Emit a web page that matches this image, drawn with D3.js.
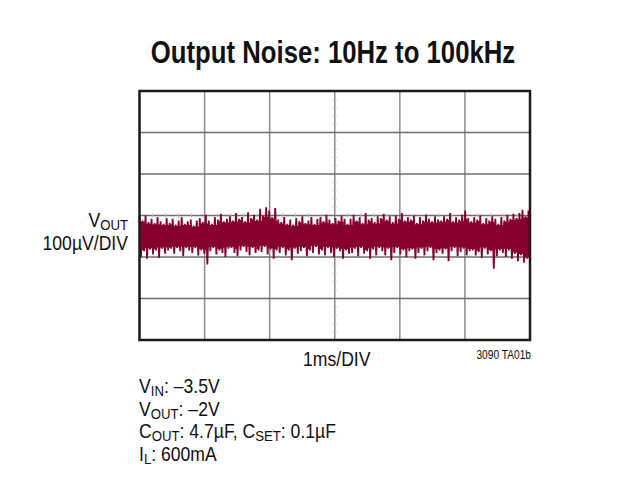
<!DOCTYPE html>
<html>
<head>
<meta charset="utf-8">
<title>Output Noise</title>
<script src="https://cdn.jsdelivr.net/npm/d3@7"></script>
<style>
  body{margin:0;background:#fff;}
  text{font-family:"Liberation Sans",Arial,sans-serif;fill:#111;}
</style>
</head>
<body>
<div id="container"></div>
<script>
// scope settings: 6 x 6 divisions, 1ms/DIV, 100uV/DIV
var xDivs = [0,1,2,3,4,5,6];          // ms
var yDivs = [-300,-200,-100,0,100,200,300]; // uV

var noiseHi = [
  -2,-12,0,-16,-8,-18,-4,-14,-20,-6,
  -18,-8,-22,-12,-4,-20,-14,-10,-24,-12,
  -6,-16,2,-12,-20,-4,-10,4,-14,-8,
  -2,-12,6,-8,-4,-14,8,-6,2,-10,
  16,0,20,12,-4,18,-10,-16,-4,-20,
  -10,-22,-6,-14,-2,-18,-12,-4,-20,-8,
  -4,-14,2,-10,-18,-6,-12,0,-8,-20,
  -8,2,-12,-4,-18,6,-10,-6,-16,-2,
  -6,4,-10,-2,-16,0,-8,6,-12,-4,
  -10,0,-18,-4,-12,2,-8,-14,-2,-10,
  -12,-2,-8,6,-14,-4,-10,2,12,-6,
  -14,-4,-10,0,-18,-6,-12,-2,-8,-20,
  -4,-12,2,-8,4,-6,6,14,-2,12
];
var noiseLo = [
  -100,-86,-104,-82,-94,-84,-102,-80,-92,-84,
  -80,-92,-78,-86,-98,-78,-84,-90,-78,-96,
  -84,-92,-118,-86,-78,-94,-84,-90,-100,-80,
  -78,-90,-98,-84,-76,-88,-96,-78,-90,-84,
  -88,-76,-94,-82,-104,-84,-90,-78,-96,-84,
  -108,-80,-92,-86,-78,-98,-84,-90,-76,-94,
  -84,-96,-78,-90,-100,-80,-86,-104,-84,-92,
  -90,-80,-98,-78,-92,-86,-104,-82,-96,-78,
  -86,-96,-80,-108,-90,-78,-94,-84,-100,-86,
  -82,-104,-90,-80,-96,-86,-78,-108,-90,-84,
  -92,-82,-110,-86,-78,-98,-88,-80,-96,-86,
  -84,-96,-88,-102,-80,-94,-86,-128,-98,-84,
  -90,-100,-84,-104,-92,-110,-96,-114,-104,-118
];

var W = 624, H = 500;
var plot = {left:139.5, top:91, width:390.5, height:249};
var narrow = 0.88; // condensed look for the body text

var svg = d3.select("#container").append("svg")
    .attr("width", W).attr("height", H);

var xScale = d3.scaleLinear().domain([0,6]).range([plot.left, plot.left+plot.width]);
var yScale = d3.scaleLinear().domain([-300,300]).range([plot.top+plot.height, plot.top]);

function label(x, y, size, anchor, sx){
  return svg.append("text")
    .attr("transform","translate("+x+","+y+") scale("+sx+",1)")
    .attr("text-anchor", anchor)
    .style("font-size", size+"px");
}

// title
label(333, 63, 31, "middle", 0.83)
  .style("font-weight","700")
  .text("Output Noise: 10Hz to 100kHz");

// grid
var grid = svg.append("g");
grid.selectAll(".vl").data(xDivs.slice(1,-1)).enter().append("line")
  .attr("x1", d=>xScale(d)).attr("x2", d=>xScale(d))
  .attr("y1", yScale(300)).attr("y2", yScale(-300))
  .attr("stroke","#8c8c8c").attr("stroke-width",1.5);
grid.selectAll(".hl").data(yDivs.slice(1,-1)).enter().append("line")
  .attr("x1", xScale(0)).attr("x2", xScale(6))
  .attr("y1", d=>yScale(d)).attr("y2", d=>yScale(d))
  .attr("stroke","#6e6e6e").attr("stroke-width",1.5);

// minor ticks on center axes
var minorY = d3.range(-300, 301, 20).filter(d => d % 100 != 0);
grid.selectAll(".my").data(minorY).enter().append("line")
  .attr("x1", xScale(3)-2).attr("x2", xScale(3)+2)
  .attr("y1", d=>yScale(d)).attr("y2", d=>yScale(d))
  .attr("stroke","#bbb").attr("stroke-width",1);
var minorX = d3.range(0, 6.01, 0.2).filter(d => Math.abs(d-Math.round(d))>0.01);
grid.selectAll(".mx").data(minorX).enter().append("line")
  .attr("x1", d=>xScale(d)).attr("x2", d=>xScale(d))
  .attr("y1", yScale(0)-2).attr("y2", yScale(0)+2)
  .attr("stroke","#bbb").attr("stroke-width",1);

// trace
var n = noiseHi.length;
var tScale = d3.scaleLinear().domain([0, n-0.5]).range([0,6]);
var traceColor = "#87002e";

// dense core where neighbouring sweeps overlap
var core = d3.range(n).map(function(i){
  var a = Math.max(0,i-1), b = Math.min(n-1,i+1);
  return {t: tScale(i+0.25),
          top: d3.min(noiseHi.slice(a,b+1)) - 3,
          bot: d3.max(noiseLo.slice(a,b+1)) + 3};
});
svg.append("path")
  .datum(core)
  .attr("d", d3.area().x(d=>xScale(d.t)).y0(d=>yScale(d.bot)).y1(d=>yScale(d.top)).curve(d3.curveStep))
  .attr("fill", traceColor);

// zigzag between the peaks of each sample
var pts = [];
for(var i=0;i<n;i++){
  pts.push([tScale(i), noiseHi[i]]);
  pts.push([tScale(i+0.5), noiseLo[i]]);
}
svg.append("path")
  .datum(pts)
  .attr("d", d3.line().x(d=>xScale(d[0])).y(d=>yScale(d[1])))
  .attr("fill","none")
  .attr("stroke",traceColor)
  .attr("stroke-width",1.8)
  .attr("stroke-linejoin","bevel");

// frame
svg.append("rect")
  .attr("x", xScale(0)).attr("y", yScale(300))
  .attr("width", xScale(6)-xScale(0)).attr("height", yScale(-300)-yScale(300))
  .attr("fill","none").attr("stroke","#1a1a1a").attr("stroke-width",2.5);

// y label
var yl = label(128, 227, 20, "end", narrow);
yl.append("tspan").text("V");
yl.append("tspan").attr("dy",3).style("font-size","15px").text("OUT");
label(128, 250, 20, "end", narrow).text("100µV/DIV");

// x label
label(xScale(3)+2, 366, 20, "middle", narrow).text("1ms/DIV");
label(531, 359, 12, "end", 0.85).text("3090 TA01b");

// conditions
var notes = [
  [["V",""],["IN","sub"],[": –3.5V",""]],
  [["V",""],["OUT","sub"],[": –2V",""]],
  [["C",""],["OUT","sub"],[": 4.7µF, C",""],["SET","sub"],[": 0.1µF",""]],
  [["I",""],["L","sub"],[": 600mA",""]]
];
notes.forEach(function(parts, k){
  var t = label(139, 393 + k*22.5, 20, "start", narrow);
  var down = false;
  parts.forEach(function(p){
    var s = t.append("tspan").text(p[0]);
    if(p[1]=="sub"){ s.attr("dy",3).style("font-size","15px"); down = true; }
    else if(down){ s.attr("dy",-3); down = false; }
  });
});
</script>
</body>
</html>
